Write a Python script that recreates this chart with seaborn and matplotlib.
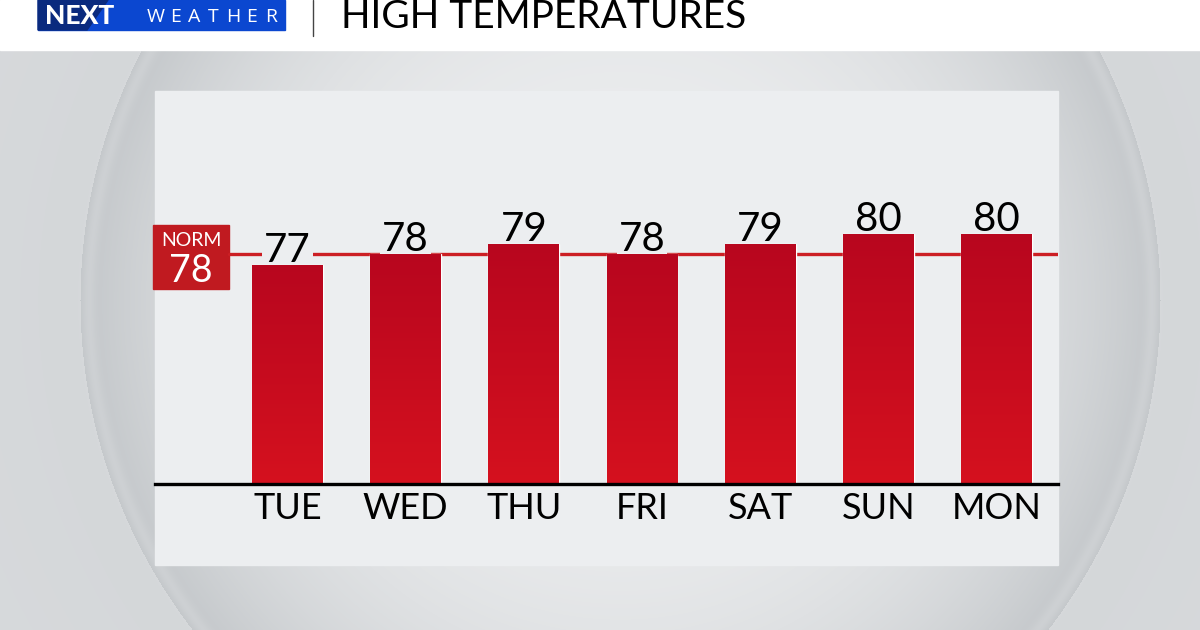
import numpy as np
import pandas as pd
import matplotlib.pyplot as plt
import seaborn as sns
from matplotlib.patches import Rectangle, Polygon
from matplotlib.colors import LinearSegmentedColormap

days = ['TUE', 'WED', 'THU', 'FRI', 'SAT', 'SUN', 'MON']
highs = [77, 78, 79, 78, 79, 80, 80]
normal_high = 78

df = pd.DataFrame({'Day': days, 'High': highs})

sns.set_style('white')
plt.rcParams['font.family'] = ['Lato', 'DejaVu Sans']

W, H = 1200, 630
PANEL = '#eceef0'
fig = plt.figure(figsize=(12, 6.3), dpi=100)

# background: grey with a soft lighter "bowl" circle
bg = fig.add_axes([0, 0, 1, 1])
yy, xx = np.mgrid[0:H, 0:W]
r = np.sqrt((xx - 620) ** 2 + (yy - 300) ** 2) / 540.0
inside = np.clip(r, 0, 1)
img = np.where(r <= 1, 0.93 - 0.14 * inside ** 3, 0.85 + 0.03 * np.clip(r - 1, 0, 1))
rim = np.exp(-((r - 0.985) / 0.012) ** 2) * 0.03
img = img + rim
cmap = LinearSegmentedColormap.from_list('g', ['#a9aeb2', '#f4f5f6'])
bg.imshow(img, cmap=cmap, vmin=0.7, vmax=0.96, extent=[0, W, H, 0], aspect='auto')
bg.set_xlim(0, W)
bg.set_ylim(H, 0)
bg.axis('off')

# header band with logo
bg.add_patch(Rectangle((0, 0), W, 50, color='white', zorder=2))
bg.add_patch(Rectangle((38, 0), 247, 30, color='#0b47d0', zorder=3))
bg.add_patch(Polygon([(38, 0), (108, 0), (87, 30), (38, 30)], closed=True,
                     color='#0a2a7e', zorder=3))
bg.text(45, 24, 'NEXT', color='white', fontsize=19, fontweight='black', zorder=4)
for k, ch in enumerate('WEATHER'):
    bg.text(156 + k * 19.2, 22.5, ch, color='white', fontsize=14, ha='center', zorder=4,
            family=['Open Sans', 'DejaVu Sans'])
bg.plot([313, 313], [0, 36], color='#444444', lw=1, zorder=4)
bg.text(341, 28, 'HIGH TEMPERATURES', color='black', fontsize=28, zorder=4)

# chart panel
bg.add_patch(Rectangle((155, 91), 903, 474, color=PANEL, zorder=2))

# main axes: from panel top to baseline
left, right = 155 / W, 1058 / W
bottom, top = 1 - 484 / H, 1 - 91 / H
ax = fig.add_axes([left, bottom, right - left, top - bottom])
ax.patch.set_alpha(0)

sns.barplot(data=df, x='Day', y='High', ax=ax, color='#c40a1f', width=0.6,
            saturation=1, zorder=3)

ymin, ymax = 55.8, 93.8

# vertical gradient on bars
grad = np.linspace(0, 1, 256).reshape(-1, 1)
bar_cmap = LinearSegmentedColormap.from_list('bar', ['#d5111f', '#b8061e'])
for p in ax.patches:
    x0 = p.get_x()
    w = p.get_width()
    h = p.get_height()
    im = ax.imshow(grad, cmap=bar_cmap, extent=[x0, x0 + w, ymin, h],
                   origin='lower', aspect='auto', zorder=3.5)
    im.set_clip_path(p)

ax.set_xlim(-1.12, 6.52)
ax.set_ylim(ymin, ymax)

# normal line
ax.axhline(normal_high, xmin=(229 - 155) / 903, xmax=1, color='#cc1f24', lw=2.4, zorder=2)

# value labels; panel-coloured box cuts the normal line, bars drawn on top
for i, v in enumerate(highs):
    ax.text(i, v + 0.3, str(v), ha='center', va='baseline', fontsize=29,
            color='black', zorder=2.5,
            bbox=dict(boxstyle='square,pad=0.05', fc=PANEL, ec='none'))

for s in ['top', 'left', 'right']:
    ax.spines[s].set_visible(False)
ax.spines['bottom'].set_color('black')
ax.spines['bottom'].set_linewidth(2.4)
ax.spines['bottom'].set_zorder(6)
ax.set_yticks([])
ax.set_xlabel('')
ax.set_ylabel('')
ax.tick_params(axis='x', length=0, pad=6, labelsize=26, labelcolor='black')

# NORM box
bg.add_patch(Rectangle((153, 225), 76, 64, color='#c01a20', zorder=5))
bg.text(191, 241, 'NORM', color='white', fontsize=14, ha='center', va='center', zorder=6)
bg.text(191, 271, str(normal_high), color='white', fontsize=27, ha='center', va='center', zorder=6)

fig.savefig('out.png', dpi=100)
